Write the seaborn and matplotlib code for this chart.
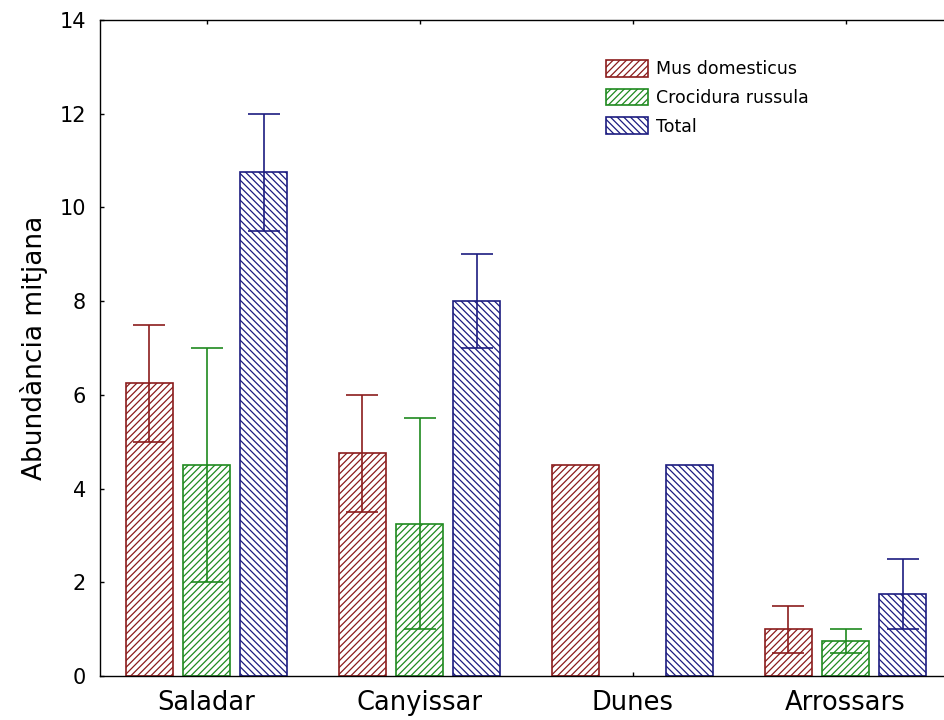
import numpy as np
import pandas as pd
import matplotlib
matplotlib.use("Agg")
import matplotlib.pyplot as plt
from matplotlib.patches import Patch
import seaborn as sns

# Mean abundance per habitat and species, with half-width of the error bar
habitats = ["Saladar", "Canyissar", "Dunes", "Arrossars"]
species = ["Mus domesticus", "Crocidura russula", "Total"]
mus_mean = [6.25, 4.75, 4.5, 1.0]
mus_err = [1.25, 1.25, np.nan, 0.5]
croc_mean = [4.5, 3.25, np.nan, 0.75]
croc_err = [2.5, 2.25, np.nan, 0.25]
total_mean = [10.75, 8.0, 4.5, 1.75]
total_err = [1.25, 1.0, np.nan, 0.75]
yticks = [0, 2, 4, 6, 8, 10, 12, 14]

colors = ["#8b1c1c", "#1f8a1f", "#1c1c80"]
hatches = ["/////", "/////", "\\\\\\\\\\"]

means = [mus_mean, croc_mean, total_mean]
errs = [mus_err, croc_err, total_err]
df = pd.DataFrame({
    "habitat": habitats * 3,
    "species": [s for s in species for _ in habitats],
    "mean": mus_mean + croc_mean + total_mean,
})

sns.set_theme(style="ticks")
plt.rcParams["font.family"] = ["DejaVu Sans"]
plt.rcParams["hatch.linewidth"] = 0.9
plt.rcParams["text.color"] = "black"
plt.rcParams["xtick.color"] = "black"
plt.rcParams["ytick.color"] = "black"
plt.rcParams["axes.labelcolor"] = "black"

fig = plt.figure(figsize=(9.44, 7.2), dpi=100)
ax = fig.add_axes([100 / 944, 1 - 676 / 720, 852 / 944, 656 / 720])

sns.barplot(data=df.dropna(), x="habitat", y="mean", hue="species",
            order=habitats, hue_order=species, palette=colors,
            errorbar=None, width=0.804, gap=0.19, legend=False, ax=ax)

bar_groups = list(ax.containers)
for k, cont in enumerate(bar_groups):
    for p in cont.patches:
        p.set_facecolor("white")
        p.set_edgecolor(colors[k])
        p.set_hatch(hatches[k])
        p.set_linewidth(1.2)
        xc = p.get_x() + p.get_width() / 2
        i = int(round(xc))
        e = errs[k][i]
        if not np.isnan(e):
            ax.errorbar(xc, means[k][i], yerr=e, fmt="none", ecolor=colors[k],
                        elinewidth=1.2, capsize=11.5, capthick=1.2, zorder=3)

ax.set_xlim(-0.5, 3.5)
ax.set_ylim(0, 14)
ax.set_yticks(yticks)
ax.set_xlabel("")
ax.set_ylabel("Abundància mitjana", fontsize=19, labelpad=8)
ax.tick_params(axis="y", direction="in", length=3, width=1, labelsize=15,
               pad=10, right=True)
ax.tick_params(axis="x", direction="in", length=3, width=1, labelsize=18.5,
               pad=10, top=True)
for s in ax.spines.values():
    s.set_visible(True)
    s.set_color("black")
    s.set_linewidth(1.0)

handles = [Patch(facecolor="white", edgecolor=c, hatch=h, linewidth=1.2)
           for c, h in zip(colors, hatches)]
ax.legend(handles, species, loc="upper left",
          bbox_to_anchor=(606 / 944, 1 - 60 / 720), bbox_transform=fig.transFigure,
          frameon=False, fontsize=12.5, handlelength=2.4, handleheight=1.1,
          labelspacing=0.6, handletextpad=0.5, borderpad=0, borderaxespad=0)

fig.savefig("out.png", dpi=100, facecolor="white")
